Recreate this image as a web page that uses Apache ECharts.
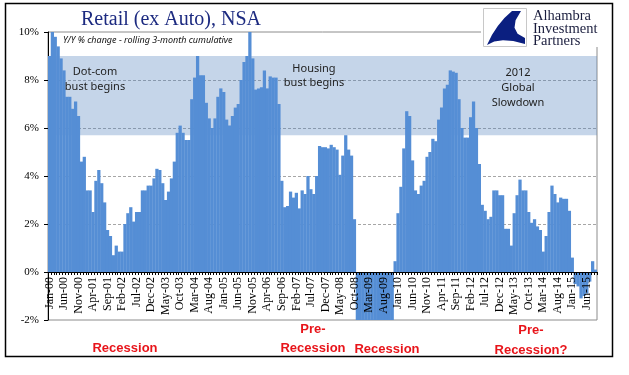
<!DOCTYPE html>
<html><head><meta charset="utf-8">
<script src="https://cdn.jsdelivr.net/npm/echarts@6/dist/echarts.min.js"></script>
<style>html,body{margin:0;padding:0;background:#fff}#c{width:629px;height:375px}</style>
</head><body><div id="c"></div>
<script>
// ---- data ----
const monthNames = ['Jan','Feb','Mar','Apr','May','Jun','Jul','Aug','Sep','Oct','Nov','Dec'];
const startYear = 2000;
// Y/Y % change, rolling 3-month cumulative, Jan-00 onward
const dotcomEra = [9.0,10.0,9.8,9.4,8.9,8.4,7.3,7.3,6.8,7.1,6.5,4.6,4.8,3.4,3.4,2.5,3.8,4.25,3.7,2.9,1.75,1.5,0.7,1.1,0.85,0.85,2.0,2.45,2.7,2.1,2.5,2.5,3.4,3.4,3.6,3.6,3.9,4.3,4.25,3.7,3.0,3.35,3.9,4.6,5.8,6.1,5.8,5.5,5.5];
const housingEra = [7.2,8.1,9.0,8.2,8.2,7.05,6.4,6.0,6.4,7.3,7.65,7.5,6.35,6.1,6.5,6.85,7.0,8.0,8.75,9.0,10.0,8.9,7.6,7.65,7.7,8.4,7.65,8.15,8.1,8.1,7.0,3.8,2.7,2.75,3.35,3.1,3.3,2.65,3.4,3.25,4.0,3.45,3.25,4.0,5.25,5.2,5.2,5.15,5.3,5.2,5.1,4.05,4.85,5.7,5.1,4.85,2.2];
const recessionEra = [-2.5,-4.5,-6.0,-7.0,-8.0,-8.5,-9.0,-9.0,-8.5,-8.0,-6.5,-4.5,-2.5];
const recoveryEra = [0.45,2.45,3.55,5.15,6.7,6.5,4.65,3.4,3.25,3.6,3.8,4.8,5.0,5.55,5.45,6.35,6.85,7.65,7.8,8.4,8.35,8.3,7.2,6.0,5.6,5.6,6.45,7.1,6.0,4.5,2.8,2.55,2.2,2.3,3.4,3.4,3.2,3.2,1.8,1.8,1.1,2.45,3.2,3.85,3.4,3.4,2.5,2.05,2.2,1.9,1.75,0.85,1.5,2.5,3.6,3.25,2.9,3.1,3.05,3.05,2.55,0.6];
const recentEra = [-0.5,-0.6,-1.1,-1.0,-0.9,-0.4,0.45,0.1];
const values = [].concat(dotcomEra, housingEra, recessionEra, recoveryEra, recentEra);
const categories = values.map((v, i) => monthNames[i % 12] + '-' + String((startYear + Math.floor(i / 12)) % 100).padStart(2, '0'));
const yMin = -2, yMax = 10, yStep = 2;
const band = [5.7, 9.0];

const gridTop = 32, gridBottom = 55, chartH = 375;
const plotH = chartH - gridTop - gridBottom;
const zeroOffset = -plotH * (0 - yMin) / (yMax - yMin); // lift the category axis to the 0% line

const chart = echarts.init(document.getElementById('c'), null, {renderer: 'canvas'});
const serif = '"Liberation Serif", "DejaVu Serif", serif';
const sans = '"Noto Sans", "Liberation Sans", sans-serif';
const red = '#e8141a';
const barColor = '#558ED5';
function txt(text, x, y, font, color, extra) {
  return {type: 'text', x: x, y: y, silent: true, z: 50,
    style: Object.assign({text: text, font: font, fill: color, textAlign: 'center', textVerticalAlign: 'middle'}, extra || {})};
}
const swoosh = [[521,11],[512,11],[504.4,18],[497.8,26],[491.9,35],[487,45],[494.2,41.6],[503,40.3],[513.2,41],[525,44],[525,38],[517.6,33.7],[514.5,27.8],[515.6,20.2]];
chart.setOption({
  animation: false,
  backgroundColor: '#fff',
  grid: {left: 48, right: 32, top: gridTop, bottom: gridBottom, show: true, borderColor: '#8c8c8c', borderWidth: 1, backgroundColor: 'transparent', outerBoundsMode: 'none'},
  xAxis: {
    type: 'category', data: categories, z: 10, offset: zeroOffset,
    axisLine: {onZero: false, lineStyle: {color: '#000', width: 1}},
    axisTick: {show: true, interval: 0, length: 3, lineStyle: {color: '#000'}},
    axisLabel: {interval: 4, rotate: 90, margin: 5, fontFamily: serif, fontSize: 12, color: '#000'},
    splitLine: {show: false}
  },
  yAxis: {
    type: 'value', min: yMin, max: yMax, interval: yStep,
    axisLine: {show: true, lineStyle: {color: '#000', width: 1}},
    axisTick: {show: true, length: 4, lineStyle: {color: '#000'}},
    axisLabel: {formatter: '{value}%', margin: 9, fontFamily: serif, fontSize: 11, color: '#000'},
    splitLine: {show: true, showMinLine: false, showMaxLine: false, lineStyle: {color: '#a6a6a6', type: [3, 2], width: 1}}
  },
  series: [
    {type: 'bar', data: values, barWidth: '112%', clip: true, z: 2,
     itemStyle: {color: barColor}, emphasis: {disabled: true}},
    {type: 'line', data: [], z: 3, silent: true,
     markArea: {silent: true, itemStyle: {color: 'rgba(79,129,189,0.33)'},
       data: [[{yAxis: band[0]}, {yAxis: band[1]}]]}}
  ],
  graphic: [
    {type: 'rect', shape: {x: 481, y: 4, width: 130, height: 43}, style: {fill: '#fff'}, silent: true, z: 40},
    {type: 'rect', shape: {x: 483.5, y: 8.5, width: 43, height: 38}, style: {fill: '#fff', stroke: '#c8c8c8', lineWidth: 1}, silent: true, z: 41},
    {type: 'polygon', shape: {points: swoosh}, style: {fill: '#0b1f80'}, silent: true, z: 42},
    txt('Alhambra', 533, 16, '14.5px ' + serif, '#1a1d3d', {textAlign: 'left'}),
    txt('Investment', 533, 29, '14.5px ' + serif, '#1a1d3d', {textAlign: 'left'}),
    txt('Partners', 533, 41, '14.5px ' + serif, '#1a1d3d', {textAlign: 'left'}),
    txt('Retail (ex Auto), NSA', 171, 20, '20px ' + serif, '#1c2a80'),
    txt('Y/Y % change - rolling 3-month cumulative', 63, 40, 'italic 9px ' + sans, '#111', {textAlign: 'left'}),
    txt('Dot-com', 95, 72, '11px ' + sans, '#222'),
    txt('bust begins', 95, 87, '11px ' + sans, '#222'),
    txt('Housing', 314, 69, '11px ' + sans, '#222'),
    txt('bust begins', 314, 83, '11px ' + sans, '#222'),
    txt('2012', 518, 73, '11px ' + sans, '#222'),
    txt('Global', 518, 88, '11px ' + sans, '#222'),
    txt('Slowdown', 518, 103, '11px ' + sans, '#222'),
    txt('Recession', 125, 348, 'bold 13px "Liberation Sans", sans-serif', red),
    txt('Pre-', 313, 329, 'bold 13px "Liberation Sans", sans-serif', red),
    txt('Recession', 313, 348, 'bold 13px "Liberation Sans", sans-serif', red),
    txt('Recession', 387, 349, 'bold 13px "Liberation Sans", sans-serif', red),
    txt('Pre-', 531, 330, 'bold 13px "Liberation Sans", sans-serif', red),
    txt('Recession?', 531, 350, 'bold 13px "Liberation Sans", sans-serif', red),
    {type: 'rect', shape: {x: 5.5, y: 3.5, width: 607, height: 353}, style: {fill: 'none', stroke: '#000', lineWidth: 1.5}, silent: true, z: 60}
  ]
});
</script></body></html>
